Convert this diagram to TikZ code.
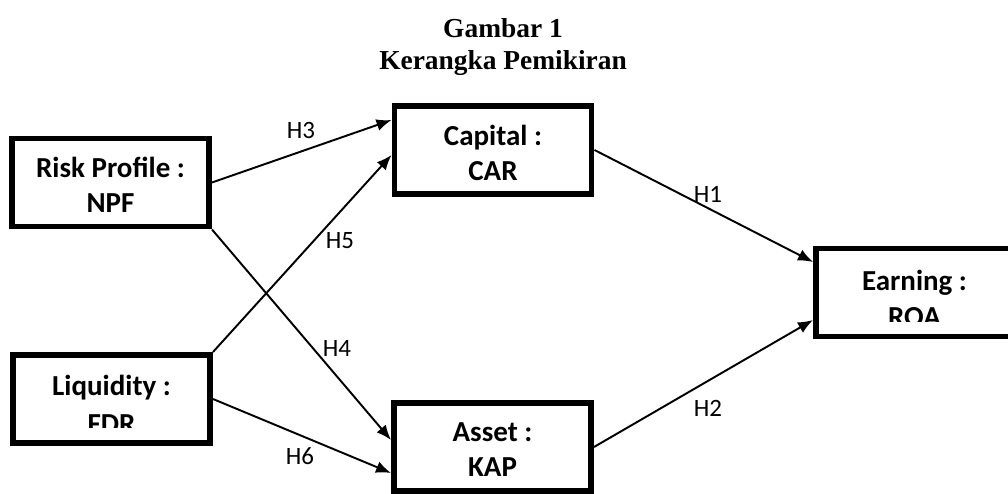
\documentclass[tikz,border=0pt]{standalone}
\usepackage{fontspec}
\setmainfont{Carlito}
\newfontfamily\titlefont{Liberation Serif}
\usetikzlibrary{arrows.meta,positioning}

\tikzset{
  varbox/.style={draw, line width=3.4pt, minimum width=3.94cm, minimum height=1.76cm, inner sep=0pt},
  vartext/.style={align=center, font=\fontsize{16.5}{19.9}\selectfont\bfseries},
  loosetext/.style={align=center, font=\fontsize{16.5}{#1}\selectfont\bfseries},
  hyp/.style={->, line width=1.1pt},
  hyplabel/.style={font=\fontsize{14.2}{17}\selectfont}
}

\begin{document}
\begin{tikzpicture}[>={Latex[length=.3cm,width=.24cm]}]
    \useasboundingbox (0,0) rectangle (20.16,-9.88);
    \node[align=center, font=\titlefont\fontsize{15.6}{18.2}\selectfont\bfseries] (title) at (10.06,-0.95)
      {Gambar 1\\Kerangka Pemikiran};

    % variables
    \node[varbox] (risk) at (2.21,-3.65) {};
    \node[vartext] (risktxt) at ([yshift=-.05cm]risk.center) {Risk Profile :\\NPF};
    \node[varbox] (liq) at (2.23,-7.98) {};
    \begin{scope}
      \clip (0,-8.54) rectangle (5,-7);
      \node[loosetext=21.6] (liqtxt) at ([yshift=-.1cm]liq.center) {Liquidity :\\FDR};
    \end{scope}
    \node[varbox] (cap) at (9.86,-3.00) {};
    \node[vartext] (captxt) at ([yshift=-.06cm]cap.center) {Capital :\\CAR};
    \node[varbox] (asset) at (9.85,-8.94) {};
    \node[vartext] (assettxt) at ([yshift=-.06cm]asset.center) {Asset :\\KAP};
    \node[varbox] (earn) at (18.29,-5.85) {};
    \begin{scope}
      \clip (16,-6.42) rectangle (20.16,-4);
      \node[loosetext=20.5] (earntxt) at ([yshift=-.12cm]earn.center) {Earning :\\ROA};
    \end{scope}

    % hypotheses
    \draw[hyp] (risk.east) -- ([yshift=.6cm]cap.west);
    \draw[hyp] (liq.north east) -- ([yshift=-.1cm]cap.west);
    \draw[hyp] (risk.south east) -- ([yshift=.14cm]asset.west);
    \draw[hyp] (liq.east) -- ([yshift=-.52cm]asset.west);
    \draw[hyp] (cap.east) -- ([yshift=.61cm]earn.west);
    \draw[hyp] (asset.east) -- ([yshift=-.55cm]earn.west);

    \node[hyplabel] (h3) at (6.02,-2.60) {H3};
    \node[hyplabel] (h5) at (6.80,-4.82) {H5};
    \node[hyplabel] (h4) at (6.74,-6.96) {H4};
    \node[hyplabel] (h6) at (6.00,-9.12) {H6};
    \node[hyplabel] (h1) at (14.16,-3.88) {H1};
    \node[hyplabel] (h2) at (14.16,-8.16) {H2};
\end{tikzpicture}
\end{document}
